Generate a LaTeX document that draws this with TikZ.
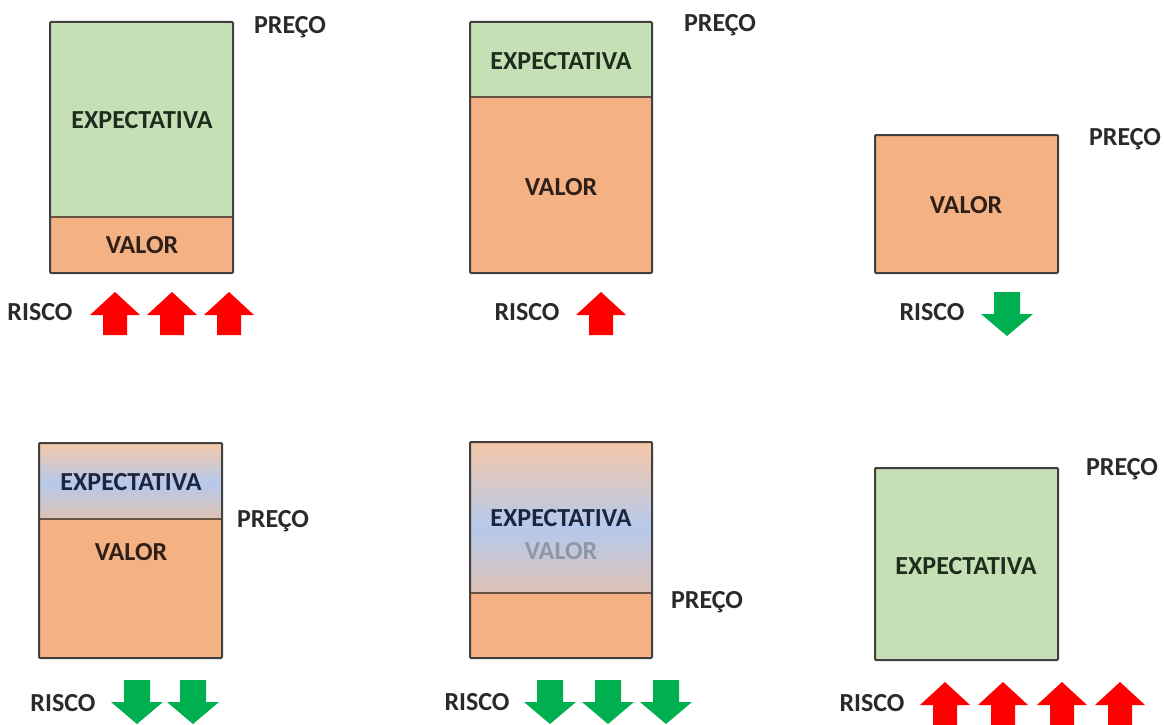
\documentclass[tikz,border=0pt]{standalone}
\usepackage{fontspec}
\setmainfont{Carlito}
\definecolor{grnfill}{HTML}{C5E0B4}
\definecolor{orgfill}{HTML}{F4B183}
\definecolor{boxgray}{HTML}{404040}
\definecolor{divbrown}{HTML}{6A5446}
\definecolor{txtgray}{HTML}{2A2A2A}
\definecolor{txtgrn}{HTML}{1E2E1E}
\definecolor{txtbrn}{HTML}{2E2018}
\definecolor{txtnavy}{HTML}{1C2540}
\definecolor{txtfade}{HTML}{8E97AA}
\definecolor{redarr}{HTML}{FF0000}
\definecolor{grnarr}{HTML}{00B050}
\definecolor{peach}{HTML}{F5C8A8}
\definecolor{blu}{HTML}{B5C9EC}
\definecolor{beige}{HTML}{DEC2B4}
\begin{document}
\begin{tikzpicture}[x=1pt,y=-1pt,
  lbl/.style={font=\bfseries\fontsize{26}{26}\selectfont, inner sep=0pt,
              text height=16.8pt, text depth=0pt, text=txtgray},
  boxline/.style={draw=boxgray, line width=2pt, rounded corners=1pt},
  divline/.style={draw=divbrown, line width=2pt},
  uparr/.pic={\fill[redarr] (0,0) -- (25,23) -- (12,23) -- (12,43) -- (-12,43) -- (-12,23) -- (-25,23) -- cycle;},
  downarr/.pic={\fill[grnarr] (-13,0) -- (13,0) -- (13,22) -- (26,22) -- (0,44) -- (-26,22) -- (-13,22) -- cycle;}
]
\useasboundingbox[fill=white] (0,0) rectangle (1164,725);

% ---------- top-left ----------
\fill[grnfill] (50,22) rectangle (233,217);
\fill[orgfill] (50,217) rectangle (233,273);
\draw[divline] (50,217) -- (233,217);
\draw[boxline] (50,22) rectangle (233,273);
\node[lbl, text=txtgrn] (tlE) at (142,120) {EXPECTATIVA};
\node[lbl, text=txtbrn] (tlV) at (142,245) {VALOR};
\node[lbl] (tlP) at (290,25) {PREÇO};
\node[lbl] (tlR) at (40,312) {RISCO};
\pic (tla1) at (115,292) {uparr};
\pic (tla2) at (172,292) {uparr};
\pic (tla3) at (229,292) {uparr};

% ---------- top-middle ----------
\fill[grnfill] (470,22) rectangle (652,97);
\fill[orgfill] (470,97) rectangle (652,273);
\draw[divline] (470,97) -- (652,97);
\draw[boxline] (470,22) rectangle (652,273);
\node[lbl, text=txtgrn] (tmE) at (561,61) {EXPECTATIVA};
\node[lbl, text=txtbrn] (tmV) at (561,187) {VALOR};
\node[lbl] (tmP) at (720,23) {PREÇO};
\node[lbl] (tmR) at (527,312) {RISCO};
\pic (tma1) at (601,292) {uparr};

% ---------- top-right ----------
\fill[orgfill] (875,135) rectangle (1058,273);
\draw[boxline] (875,135) rectangle (1058,273);
\node[lbl, text=txtbrn] (trV) at (966,205) {VALOR};
\node[lbl] (trP) at (1125,137) {PREÇO};
\node[lbl] (trR) at (932,312) {RISCO};
\pic (tra1) at (1007,292) {downarr};

% ---------- bottom-left ----------
\shade[top color=peach, bottom color=blu] (39,443) rectangle (222,482.5);
\shade[top color=blu, bottom color=beige] (39,482) rectangle (222,519);
\fill[orgfill] (39,519) rectangle (222,658);
\draw[divline] (39,519) -- (222,519);
\draw[boxline] (39,443) rectangle (222,658);
\node[lbl, text=txtnavy] (blE) at (131,482) {EXPECTATIVA};
\node[lbl, text=txtbrn] (blV) at (131,552) {VALOR};
\node[lbl] (blP) at (273,519) {PREÇO};
\node[lbl] (blR) at (63,703) {RISCO};
\pic (bla1) at (137,680) {downarr};
\pic (bla2) at (193,680) {downarr};

% ---------- bottom-middle ----------
\shade[top color=peach, bottom color=blu] (470,442) rectangle (652,528.5);
\shade[top color=blu, bottom color=beige] (470,528) rectangle (652,593);
\fill[orgfill] (470,593) rectangle (652,658);
\draw[divline] (470,593) -- (652,593);
\draw[boxline] (470,442) rectangle (652,658);
\node[lbl, text=txtnavy] (bmE) at (561,518) {EXPECTATIVA};
\node[lbl, text=txtfade] (bmV) at (561,551) {VALOR};
\node[lbl] (bmP) at (707,600) {PREÇO};
\node[lbl] (bmR) at (477,702) {RISCO};
\pic (bma1) at (550,680) {downarr};
\pic (bma2) at (608,680) {downarr};
\pic (bma3) at (666,680) {downarr};

% ---------- bottom-right ----------
\fill[grnfill] (875,468) rectangle (1058,660);
\draw[boxline] (875,468) rectangle (1058,660);
\node[lbl, text=txtgrn] (brE) at (966,566) {EXPECTATIVA};
\node[lbl] (brP) at (1122,467) {PREÇO};
\node[lbl] (brR) at (872,703) {RISCO};
\pic (bra1) at (945,682) {uparr};
\pic (bra2) at (1003,682) {uparr};
\pic (bra3) at (1062,682) {uparr};
\pic (bra4) at (1120,682) {uparr};
\end{tikzpicture}
\end{document}
